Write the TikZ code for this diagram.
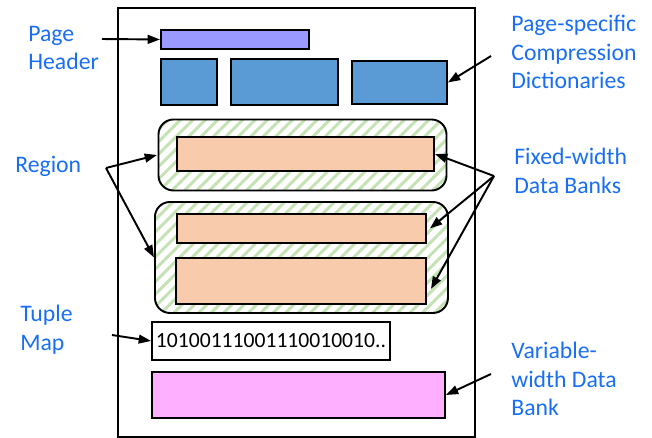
\documentclass[tikz,border=0pt]{standalone}
\usepackage{fontspec}
\setmainfont{Carlito}
\usetikzlibrary{
  arrows.meta,
  positioning,   % relative placement
  patterns.meta, % hatched regions
}
\def\px{0.02cm}
\definecolor{lblblue}{RGB}{25,110,245}
\definecolor{hdrviolet}{RGB}{153,153,255}
\definecolor{dictblue}{RGB}{91,155,213}
\definecolor{bankorange}{RGB}{248,203,173}
\definecolor{varpink}{RGB}{255,175,255}
\definecolor{hatchgreen}{RGB}{197,226,180}
\tikzset{
  x=\px, y=-\px,
  >={Triangle[length=7pt,width=5pt]},
  sz/.style 2 args={
    minimum width=#1*\px,
    minimum height=#2*\px
  },
  my box/.style={
    draw,
    line width=1.1pt,
    inner sep=0pt,
    anchor=north west,
    rectangle
  },
  my region/.style={
    my box,
    rounded corners=0.3cm,
    pattern={Lines[angle=45,distance=5pt,line width=1.7pt]},
    pattern color=hatchgreen
  },
  my label/.style={
    text=lblblue,
    align=left,
    anchor=west,
    inner sep=0pt,
    font=\fontsize{13.5}{16.4}\selectfont
  },
  my arrow/.style={
    ->,
    line width=1.1pt
  }
}
\begin{document}
\begin{tikzpicture}
\useasboundingbox (0,0) rectangle (652,437);
% page and its parts
\node[my box,sz={357}{429}]                 (page)   at (117,7)   {};
\node[my box,sz={148}{19},fill=hdrviolet]   (hdr)    at (160,29)  {};
\node[my box,sz={56}{46},fill=dictblue]     (dict1)  at (160,58)  {};
\node[my box,sz={107}{46},fill=dictblue]    (dict2)  at (230,58)  {};
\node[my box,sz={95}{43},fill=dictblue]     (dict3)  at (351,60)  {};
\node[my region,sz={288}{71}]               (reg1)   at (157,118) {};
\node[my box,sz={257}{34},fill=bankorange]  (bank1)  at (176,136) {};
\node[my region,sz={293}{111}]              (reg2)   at (154,201) {};
\node[my box,sz={249}{29},fill=bankorange]  (bank2)  at (176,213) {};
\node[my box,sz={250}{46},fill=bankorange]  (bank3)  at (175,257) {};
\node[my box,sz={238}{38},font=\fontsize{12.3}{14}\selectfont]
                                            (tmap)   at (151,321) {10100111001110010010..};
\node[my box,sz={293}{46},fill=varpink]     (vbank)  at (151,371) {};
% labels
\node[my label] (lhdr)  at (28,48)   {Page\\Header};
\node[my label] (lreg)  at (15,166)  {Region};
\node[my label] (ltup)  at (20,330)  {Tuple\\Map};
\node[my label] (ldict) at (511,52)  {Page-specific\\Compression\\Dictionaries};
\node[my label] (lfix)  at (514,171) {Fixed-width\\Data Banks};
\node[my label] (lvar)  at (511,379) {Variable-\\width Data\\Bank};
% arrow tails
\coordinate (thdr)  at (102,39);
\coordinate (tdict) at (491,56);
\coordinate (treg)  at (106,168);
\coordinate (ttup)  at (112,335);
\coordinate (tfix)  at (494,176);
\coordinate (tvar)  at (491,374);
\draw[my arrow] (thdr)  -- (hdr.west);
\draw[my arrow] (tdict) -- (dict3.east);
\draw[my arrow] (treg)  -- (reg1.west);
\draw[my arrow] (treg)  -- (reg2.west);
\draw[my arrow] (ttup)  -- (tmap.west);
\draw[my arrow] (tfix)  -- (bank1.east);
\draw[my arrow] (tfix)  -- ([xshift=3*\px]bank2.east);
\draw[my arrow] (tfix)  -- ([shift={(4,8)}]bank3.east);
\draw[my arrow] (tvar)  -- (vbank.east);
\end{tikzpicture}
\end{document}
